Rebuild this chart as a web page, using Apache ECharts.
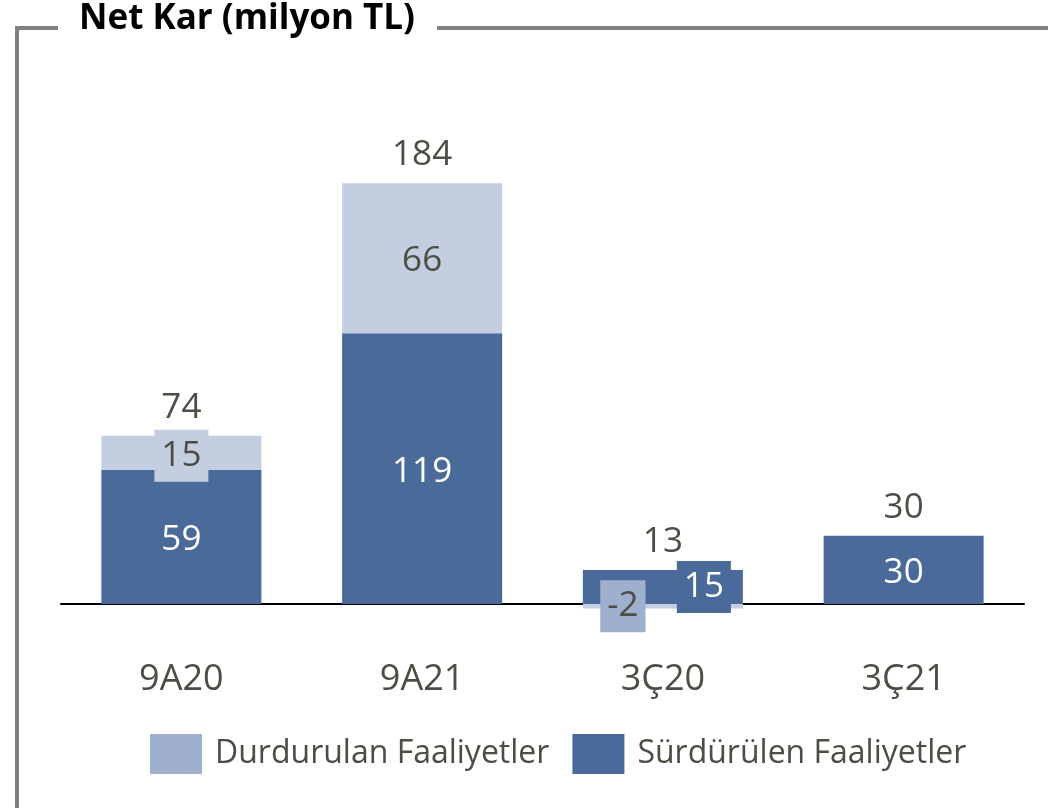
<!DOCTYPE html>
<html>
<head>
<meta charset="utf-8">
<script src="https://cdn.jsdelivr.net/npm/echarts@6/dist/echarts.min.js"></script>
<style>
  html, body { margin: 0; padding: 0; background: #fff; }
  #main { width: 1048px; height: 808px; }
</style>
</head>
<body>
<div id="main"></div>
<script>
// veriler
var categories = ['9A20', '9A21', '3Ç20', '3Ç21'];
var surdurulen = [59, 119, 15, 30];
var durdurulan = [15, 66, -2, null];
var toplam = [74, 184, 13, 30];

var DARK = '#4a6a9a';
var LIGHT = '#c4cee1';
var LIGHT_KEY = '#9fb0ce';
var TEXT = '#4d4d44';
var FONT = '"Open Sans", "Noto Sans", sans-serif';

var chart = echarts.init(document.getElementById('main'));

// pozitif yığının tepesi (toplam etiketi için)
var posTop = categories.map(function (c, i) {
	var s = 0;
	[surdurulen[i], durdurulan[i]].forEach(function (v) {
		if (v != null && v > 0) s += v;
	});
	return s;
});

var option = {
	backgroundColor: '#fff',
	textStyle: { fontFamily: FONT },
	graphic: [
		{ type: 'line', shape: { x1: 17, y1: 28, x2: 17, y2: 808 }, style: { stroke: '#808080', lineWidth: 4 } },
		{ type: 'line', shape: { x1: 15, y1: 28, x2: 58, y2: 28 }, style: { stroke: '#808080', lineWidth: 4 } },
		{ type: 'line', shape: { x1: 437, y1: 28, x2: 1048, y2: 28 }, style: { stroke: '#808080', lineWidth: 4 } },
		{
			type: 'text', left: 79, top: 2,
			style: { text: 'Net Kar (milyon TL)', font: 'bold 35px ' + FONT, fill: '#000' }
		}
	],
	legend: {
		left: 145,
		top: 729,
		itemWidth: 52,
		itemHeight: 40,
		itemGap: 23,
		icon: 'rect',
		textStyle: { fontSize: 32, color: TEXT, padding: [0, 0, 0, 8] },
		data: [
			{ name: 'Durdurulan Faaliyetler', itemStyle: { color: LIGHT_KEY } },
			{ name: 'Sürdürülen Faaliyetler', itemStyle: { color: DARK } }
		]
	},
	grid: { left: 61, right: 24, top: 149, bottom: 181.25 },
	xAxis: {
		type: 'category',
		data: categories,
		axisLine: { onZero: true, lineStyle: { color: '#000', width: 2 } },
		axisTick: { show: false },
		axisLabel: { fontSize: 36, color: TEXT, margin: 35 }
	},
	yAxis: {
		type: 'value',
		min: -10,
		max: 200,
		show: false,
		splitLine: { show: false }
	},
	series: [{
		name: 'Sürdürülen Faaliyetler',
		type: 'bar',
		stack: 'net',
		barWidth: 160,
		itemStyle: { color: DARK },
		label: { show: true, position: 'inside', color: '#fff', fontSize: 35, offset: [0, 3] },
		data: surdurulen.map(function (v, i) {
			if (i === 2) {
				return { value: v, label: { backgroundColor: DARK, padding: [5, 7], lineHeight: 42, offset: [41, 0] } };
			}
			return v;
		})
	}, {
		name: 'Durdurulan Faaliyetler',
		type: 'bar',
		stack: 'net',
		barWidth: 160,
		itemStyle: { color: LIGHT },
		label: {
			show: true, position: 'inside', color: TEXT, fontSize: 35,
			backgroundColor: LIGHT, padding: [5, 7], lineHeight: 42, offset: [0, 3]
		},
		data: durdurulan.map(function (v, i) {
			if (v != null && v < 0) {
				return { value: v, label: { backgroundColor: LIGHT_KEY, offset: [-40, 0] } };
			}
			return v;
		})
	}, {
		name: 'Toplam',
		type: 'scatter',
		symbolSize: 0,
		silent: true,
		z: 10,
		itemStyle: { color: TEXT, opacity: 1 },
		label: {
			show: true, position: 'top', distance: 8, color: TEXT, fontSize: 35, lineHeight: 40,
			formatter: function (p) { return toplam[p.dataIndex]; }
		},
		data: posTop
	}]
};
chart.setOption(option);
</script>
</body>
</html>
